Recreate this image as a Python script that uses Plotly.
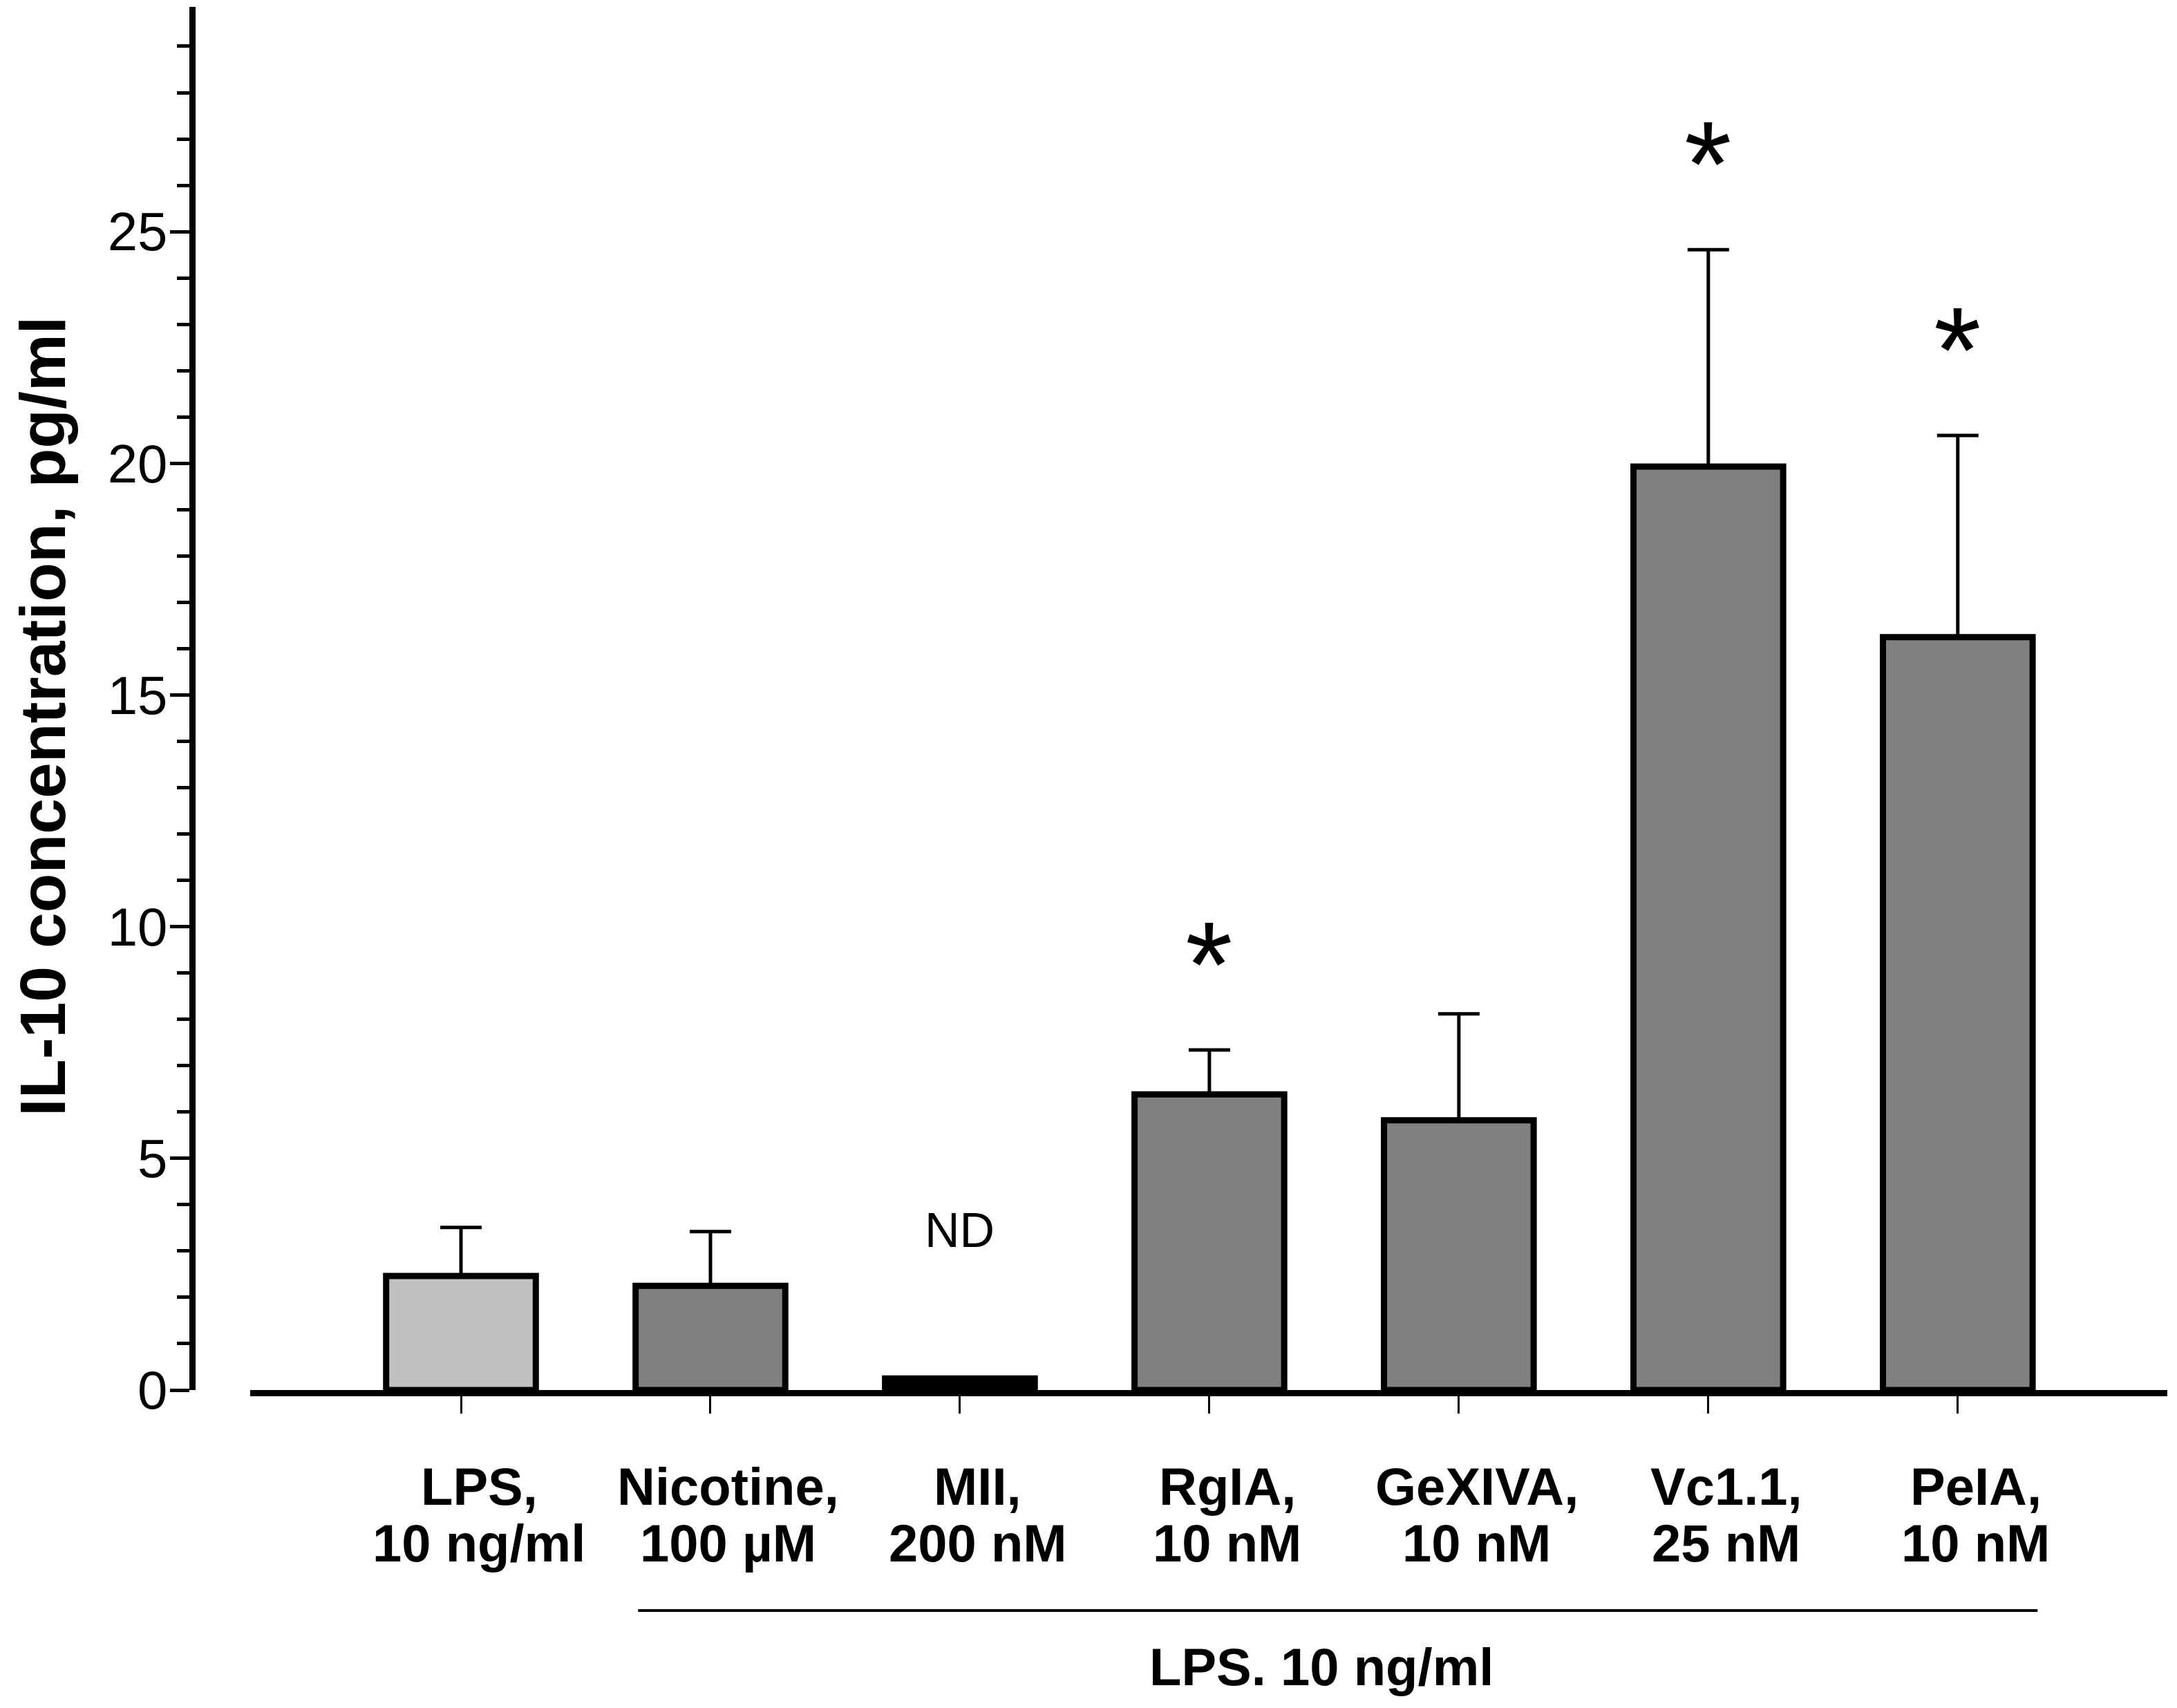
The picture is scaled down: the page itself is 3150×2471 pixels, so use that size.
import plotly.graph_objects as go

# IL-10 release, mean and SEM (pg/ml)
names = ["LPS,", "Nicotine,", "MII,", "RgIA,", "GeXIVA,", "Vc1.1,", "PeIA,"]
doses = ["10 ng/ml", "100 µM", "200 nM", "10 nM", "10 nM", "25 nM", "10 nM"]
il10_mean = [2.46, 2.25, 0.25, 6.38, 5.82, 19.93, 16.25]
il10_sem = [1.05, 1.17, None, 0.96, 2.30, 4.68, 4.35]
significant = [False, False, False, True, False, True, True]
not_detected = [False, False, True, False, False, False, False]
y_ticks = [0, 5, 10, 15, 20, 25]

W, H = 3150, 2471
PAGE_PAD = 8  # default body margin of the html page
x_pos = list(range(len(names)))


def px(p):
    # pixel column -> paper fraction
    return (p - PAGE_PAD) / W


def py(p):
    # pixel row -> paper fraction
    return 1 - (p - PAGE_PAD) / H


bar_colors = ["#c0c0c0"] + ["#808080"] * (len(names) - 1)
for i, nd in enumerate(not_detected):
    if nd:
        bar_colors[i] = "#000000"

fig = go.Figure()

fig.add_trace(
    go.Bar(
        x=x_pos,
        y=il10_mean,
        width=0.6,
        marker=dict(color=bar_colors, line=dict(color="black", width=9)),
        error_y=dict(
            type="data",
            symmetric=False,
            array=il10_sem,
            arrayminus=[0] * len(names),
            color="black",
            thickness=5,
            width=30,
        ),
        showlegend=False,
        hoverinfo="skip",
    )
)

label_font = dict(family="Liberation Sans, Arial, sans-serif", size=76, color="black", weight="bold")

annotations = []
for i in x_pos:
    annotations.append(dict(x=i, y=py(2150), xref="x", yref="paper", text=names[i],
                            showarrow=False, font=label_font, xshift=26,
                            xanchor="center", yanchor="middle"))
    annotations.append(dict(x=i, y=py(2232), xref="x", yref="paper", text=doses[i],
                            showarrow=False, font=label_font, xshift=26,
                            xanchor="center", yanchor="middle"))
    if significant[i]:
        annotations.append(dict(x=i, y=il10_mean[i] + il10_sem[i] + 2.25, xref="x", yref="y",
                                text="*", showarrow=False, yshift=-27,
                                font=dict(family="Liberation Sans, Arial, sans-serif", size=176, color="black"),
                                xanchor="center", yanchor="middle"))
    if not_detected[i]:
        annotations.append(dict(x=i, y=il10_mean[i] + 3.2, xref="x", yref="y",
                                text="ND", showarrow=False,
                                font=dict(family="Liberation Sans, Arial, sans-serif", size=70, color="black"),
                                xanchor="center", yanchor="middle"))

# common LPS treatment under the peptide groups
annotations.append(dict(x=3.45, y=py(2411), xref="x", yref="paper", text="LPS. 10 ng/ml",
                        showarrow=False, font=label_font, xanchor="center", yanchor="middle"))

annotations.append(dict(x=px(62), y=py(1037), xref="paper", yref="paper",
                        text="IL-10 concentration, pg/ml", textangle=-90, showarrow=False,
                        font=dict(family="Liberation Sans, Arial, sans-serif", size=93, color="black", weight="bold"),
                        xanchor="center", yanchor="middle"))

fig.add_shape(type="line", xref="x", yref="paper", x0=1 - 0.29, x1=len(names) - 1 + 0.32,
              y0=py(2330), y1=py(2330), line=dict(color="black", width=4))

fig.update_layout(
    width=W,
    height=H,
    margin=dict(l=0, r=0, t=0, b=0, autoexpand=False),
    paper_bgcolor="white",
    plot_bgcolor="white",
    annotations=annotations,
    xaxis=dict(
        domain=[px(362), px(3136)],
        range=[-0.845, len(names) - 1 + 0.84],
        tickvals=x_pos,
        showticklabels=False,
        ticks="outside",
        ticklen=25,
        tickwidth=3,
        tickcolor="black",
        showline=True,
        linecolor="black",
        linewidth=9,
        showgrid=False,
        zeroline=False,
        automargin=False,
    ),
    yaxis=dict(
        domain=[py(2011), py(10)],
        range=[0, 29.85],
        anchor="free",
        position=px(278),
        tickvals=y_ticks,
        ticks="outside",
        ticklen=28,
        tickwidth=5,
        tickcolor="black",
        ticklabelstandoff=-12,
        tickfont=dict(family="Liberation Sans, Arial, sans-serif", size=78, color="black"),
        minor=dict(dtick=1, ticks="outside", ticklen=18, tickwidth=5, tickcolor="black", showgrid=False),
        showline=True,
        linecolor="black",
        linewidth=9,
        showgrid=False,
        zeroline=False,
        automargin=False,
    ),
)

fig.write_html("out.html")
